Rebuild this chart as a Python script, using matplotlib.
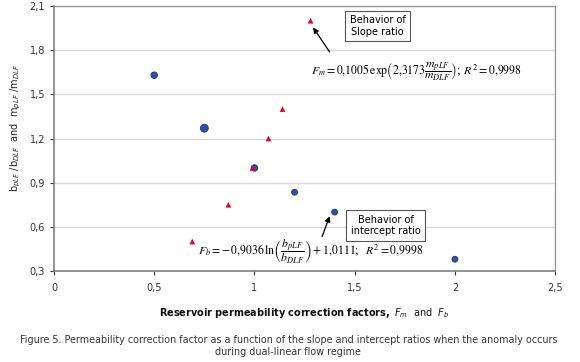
import matplotlib
matplotlib.use("Agg")
import matplotlib.pyplot as plt
from matplotlib.ticker import FuncFormatter

# Data
slope_x = [0.69, 0.87, 0.99, 1.07, 1.14, 1.28]      # red triangles (F_m)
slope_y = [0.50, 0.75, 1.00, 1.20, 1.40, 2.00]
icpt_x = [0.50, 0.75, 1.00, 1.20, 1.40, 2.00]       # blue circles (F_b)
icpt_y = [1.63, 1.27, 1.00, 0.835, 0.70, 0.38]
icpt_size = [22, 32, 22, 18, 18, 18]

xticks = [0, 0.5, 1, 1.5, 2, 2.5]
yticks = [0.3, 0.6, 0.9, 1.2, 1.5, 1.8, 2.1]

fig = plt.figure(figsize=(5.8, 3.62), dpi=100)
ax = fig.add_axes([0.0931, 0.2514, 0.864, 0.732])

ax.scatter(icpt_x, icpt_y, s=icpt_size, marker='o', color='#2F4FA8', edgecolors='#1E3270', linewidths=0.6, zorder=3)
ax.scatter(slope_x, slope_y, s=17, marker='^', color='#F00020', edgecolors='none', zorder=3)

ax.set_xlim(0, 2.5)
ax.set_ylim(0.3, 2.1)
ax.set_xticks(xticks)
ax.set_yticks(yticks)
fmt = FuncFormatter(lambda v, p: ('%g' % v).replace('.', ','))
ax.xaxis.set_major_formatter(fmt)
ax.yaxis.set_major_formatter(fmt)
ax.tick_params(labelsize=7, colors='#333333', length=3, width=0.8)
ax.tick_params(axis='x', pad=6)
ax.grid(axis='y', color='#D9D9D9', linewidth=1.0)
ax.set_axisbelow(True)
for s in ['left', 'bottom']:
    ax.spines[s].set_color('#808080')
    ax.spines[s].set_linewidth(1.2)
for s in ['top', 'right']:
    ax.spines[s].set_color('#909090')
    ax.spines[s].set_linewidth(0.9)

# Annotations
ax.text(1.615, 1.964, 'Behavior of\nSlope ratio', fontsize=7, ha='center', va='center',
        bbox=dict(boxstyle='square,pad=0.45', fc='white', ec='#555555', lw=0.8), zorder=4)
ax.annotate('', xy=(slope_x[-1] + 0.005, slope_y[-1] - 0.03), xytext=(1.383, 1.772),
            arrowprops=dict(arrowstyle='-|>', color='black', lw=0.9, mutation_scale=8), zorder=4)

ax.text(1.655, 0.608, 'Behavior of\nintercept ratio', fontsize=7, ha='center', va='center',
        bbox=dict(boxstyle='square,pad=0.45', fc='white', ec='#555555', lw=0.8), zorder=4)
ax.annotate('', xy=(icpt_x[4] - 0.02, icpt_y[4] - 0.01), xytext=(1.333, 0.516),
            arrowprops=dict(arrowstyle='-|>', color='black', lw=0.9, mutation_scale=8), zorder=4)

plt.rcParams['mathtext.fontset'] = 'stix'
ax.text(1.28, 1.655,
        r'$F_m = 0{,}1005\,\mathrm{exp}\left(2{,}3173\dfrac{m_{pLF}}{m_{DLF}}\right);\ R^2 = 0{,}9998$',
        fontsize=8.5, ha='left', va='center', zorder=4)
ax.text(0.72, 0.432,
        r'$F_b = \mathrm{-}\,0{,}9036\,\mathrm{ln}\left(\dfrac{b_{pLF}}{b_{DLF}}\right)+1{,}0111;\ \ R^2 = 0{,}9998$',
        fontsize=8.5, ha='left', va='center', zorder=4)

plt.rcParams['mathtext.fontset'] = 'dejavusans'
ax.set_ylabel(r'b$_{pLF}$ /b$_{DLF}$  and  m$_{pLF}$ /m$_{DLF}$', fontsize=7, color='#222222')
ax.yaxis.set_label_coords(-0.062, 0.54)

fig.text(0.525, 0.135,
         r'$\mathbf{Reservoir\ permeability\ correction\ factors,}\ F_m\ \ \mathrm{and}\ \ F_b$',
         fontsize=7, ha='center', va='center', color='#111111')

fig.text(0.497, 0.044,
         'Figure 5. Permeability correction factor as a function of the slope and intercept ratios when the anomaly occurs\nduring dual-linear flow regime',
         fontsize=6.9, ha='center', va='center', color='#333333', linespacing=1.35)

fig.savefig('out.png', dpi=100)
